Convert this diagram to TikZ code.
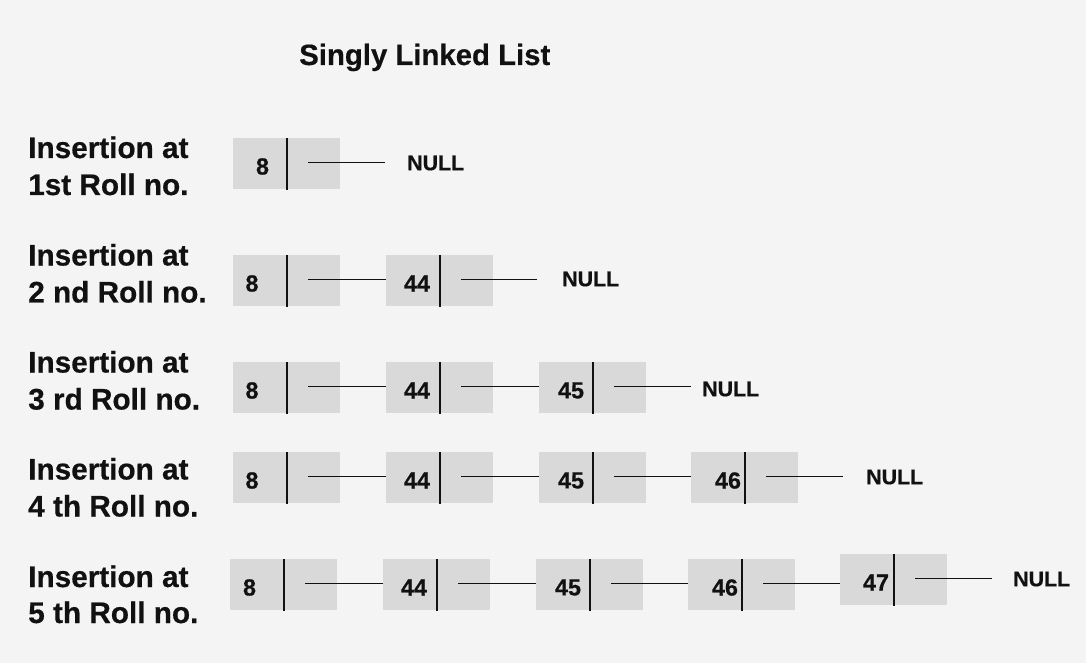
\documentclass[tikz,border=0pt]{standalone}
\usepackage{fontspec}
\setmainfont{Liberation Sans}[BoldFeatures={FakeBold=0.5}]
\usetikzlibrary{calc}
\definecolor{bg}{HTML}{F4F4F4}
\definecolor{cellc}{HTML}{D9D9D9}
\definecolor{ink}{HTML}{111111}
\tikzset{
 cell/.style={fill=cellc, draw=none, minimum width=80.25pt, minimum height=38.25pt, inner sep=0pt, anchor=north west},
 divider/.style={draw=ink, line width=1.15pt},
 link/.style={draw=ink, line width=1.1pt},
 val/.style={font=\fontsize{17.5}{20}\selectfont\bfseries, inner sep=0pt, text=ink},
 nul/.style={font=\fontsize{16}{19}\selectfont\bfseries, inner sep=0pt, anchor=west, text=ink},
 lab/.style={font=\fontsize{22.3}{26}\selectfont\bfseries, inner sep=0pt, anchor=base west, text=ink},
 ttl/.style={font=\fontsize{22}{26}\selectfont\bfseries, inner sep=0pt, anchor=base west, text=ink},
}
% name, left x, top y, value, value x offset
\newcommand\llnode[5]{%
 \node[cell] (#1) at (#2,#3) {};
 \coordinate (#1dt) at ($(#1.north west)+(54,0)$);
 \coordinate (#1db) at ($(#1.south west)+(54,0)$);
 \draw[divider] (#1dt) -- (#1db);
 \node[val] (#1v) at ($(#1.north west)+(#5,28.5)$) {#4};
 \coordinate (#1p) at ($(#1.north west)+(75,24.5)$);
}
\begin{document}
\begin{tikzpicture}[x=0.75pt,y=-0.75pt]
\fill[bg] (0,0) rectangle (1086,663);
\useasboundingbox (0,0) rectangle (1086,663);

\node[ttl] (title) at (299,65) {Singly Linked List};

% labels
\node[lab] (l1a) at (28,158) {Insertion at};
\node[lab] (l1b) at (28,195) {1st Roll no.};
\node[lab] (l2a) at (28,265.5) {Insertion at};
\node[lab] (l2b) at (28,302.5) {2 nd Roll no.};
\node[lab] (l3a) at (28,372.5) {Insertion at};
\node[lab] (l3b) at (28,409.5) {3 rd Roll no.};
\node[lab] (l4a) at (28,479.5) {Insertion at};
\node[lab] (l4b) at (28,516.5) {4 th Roll no.};
\node[lab] (l5a) at (28,587) {Insertion at};
\node[lab] (l5b) at (28,623) {5 th Roll no.};

% row 1
\llnode{ra}{233}{138}{8}{29.5}
\coordinate (rae) at ($(rap)+(77,0)$);
\draw[link] (rap) -- (rae);
\node[nul] (ran) at (407,163) {NULL};

% row 2
\llnode{sa}{233}{255}{8}{19}
\llnode{sb}{386}{255}{44}{31}
\draw[link] (sap) -- (sap -| sb.west);
\coordinate (sbe) at ($(sbp)+(76,0)$);
\draw[link] (sbp) -- (sbe);
\node[nul] (sbn) at (562,279) {NULL};

% row 3
\llnode{ta}{233}{362}{8}{19}
\llnode{tb}{386}{362}{44}{31}
\llnode{tc}{539}{362}{45}{32}
\draw[link] (tap) -- (tap -| tb.west);
\draw[link] (tbp) -- (tbp -| tc.west);
\coordinate (tce) at ($(tcp)+(77,0)$);
\draw[link] (tcp) -- (tce);
\node[nul] (tcn) at (702,389) {NULL};

% row 4
\llnode{ua}{233}{452}{8}{19}
\llnode{ub}{386}{452}{44}{31}
\llnode{uc}{539}{452}{45}{32}
\llnode{ud}{691}{452}{46}{37}
\draw[link] (uap) -- (uap -| ub.west);
\draw[link] (ubp) -- (ubp -| uc.west);
\draw[link] (ucp) -- (ucp -| ud.west);
\coordinate (ude) at ($(udp)+(77,0)$);
\draw[link] (udp) -- (ude);
\node[nul] (udn) at (866,477) {NULL};

% row 5
\llnode{va}{230}{559}{8}{19.5}
\llnode{vb}{383}{559}{44}{31}
\llnode{vc}{536}{559}{45}{32}
\llnode{vd}{688}{559}{46}{37}
\llnode{ve}{840}{554}{47}{36}
\draw[link] (vap) -- (vap -| vb.west);
\draw[link] (vbp) -- (vbp -| vc.west);
\draw[link] (vcp) -- (vcp -| vd.west);
\draw[link] (vdp) -- (vdp -| ve.west);
\coordinate (vee) at ($(vep)+(77,0)$);
\draw[link] (vep) -- (vee);
\node[nul] (ven) at (1013,579) {NULL};
\end{tikzpicture}
\end{document}
